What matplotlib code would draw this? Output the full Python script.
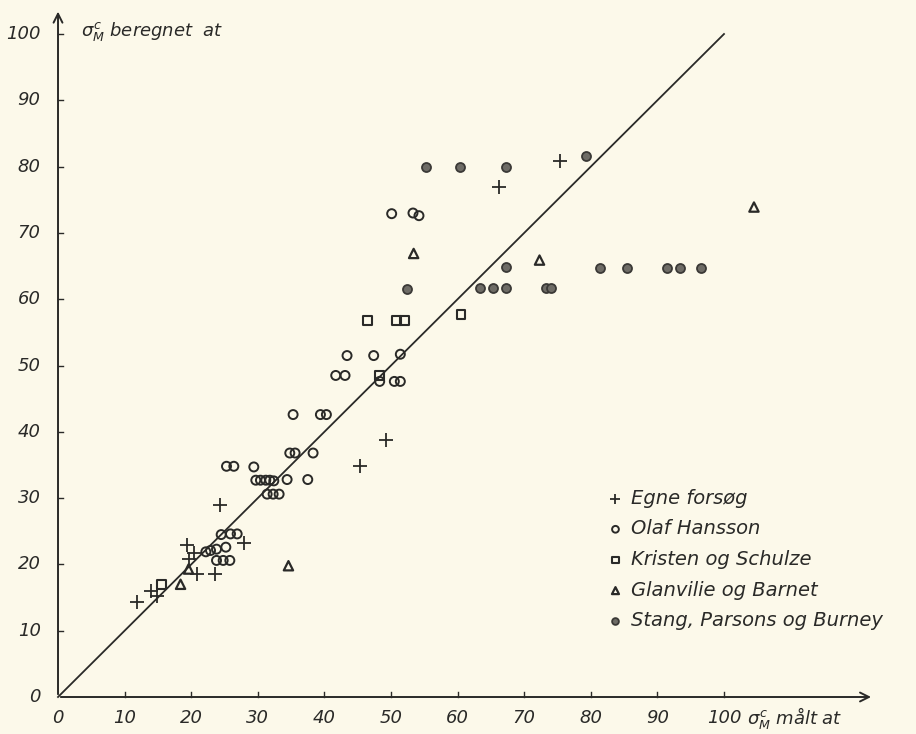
import matplotlib
matplotlib.use("Agg")
import matplotlib.pyplot as plt

# ==========================
# Data read from the chart (measured vs. calculated, at)
# ==========================
egne_x = [11.9, 13.9, 14.8, 19.4, 19.6, 20.4, 20.8, 23.6, 24.3, 27.9, 45.4, 49.3, 66.2, 75.4]
egne_y = [14.3, 16.0, 15.3, 22.9, 20.8, 21.7, 18.5, 18.5, 29.0, 23.3, 34.8, 38.8, 76.9, 80.9]

olaf_x = [22.2, 22.9, 23.8, 23.8, 24.8, 25.8, 25.2, 24.5, 25.9, 26.9,
          25.3, 26.4, 29.4, 29.7, 30.4, 31.2, 31.8, 32.4, 34.4, 37.5,
          31.4, 32.3, 33.2, 34.8, 35.6, 38.3, 35.3, 39.4, 40.3,
          41.7, 43.1, 43.4, 47.4, 51.4, 48.3, 50.5, 51.4, 50.1, 53.3, 54.2]
olaf_y = [21.9, 22.1, 22.3, 20.6, 20.6, 20.6, 22.6, 24.5, 24.6, 24.6,
          34.8, 34.8, 34.7, 32.7, 32.7, 32.7, 32.7, 32.6, 32.8, 32.8,
          30.6, 30.6, 30.6, 36.8, 36.8, 36.8, 42.6, 42.6, 42.6,
          48.5, 48.5, 51.5, 51.5, 51.7, 47.6, 47.6, 47.6, 72.9, 73.0, 72.6]

kristen_x = [15.5, 46.5, 50.8, 52.0, 60.5, 48.3]
kristen_y = [17.0, 56.8, 56.8, 56.8, 57.7, 48.5]

glanv_x = [18.4, 19.6, 34.6, 53.4, 72.3, 104.5]
glanv_y = [17.0, 19.3, 19.8, 66.9, 65.9, 73.9]

stang_x = [55.2, 60.3, 67.3, 79.3, 52.4, 63.3, 65.3, 67.3, 67.3, 73.2, 74.0,
           81.4, 85.4, 91.5, 93.4, 96.5]
stang_y = [79.9, 79.9, 79.9, 81.6, 61.6, 61.7, 61.7, 61.7, 64.8, 61.7, 61.7,
           64.7, 64.7, 64.7, 64.7, 64.7]

ticks = [0, 10, 20, 30, 40, 50, 60, 70, 80, 90, 100]
labels = ["Egne forsøg", "Olaf Hansson", "Kristen og Schulze",
          "Glanvilie og Barnet", "Stang, Parsons og Burney"]

# ==========================
# Figure
# ==========================
ink = "#2a2a28"
paper = "#fcf9ea"
plt.rcParams["font.family"] = "DejaVu Sans"
plt.rcParams["mathtext.fontset"] = "dejavusans"

fig = plt.figure(figsize=(9.16, 7.34), dpi=100, facecolor=paper)
ax = fig.add_axes([0, 0, 1, 1])
ax.set_facecolor(paper)
ax.set_xlim(-8.71, 128.83)
ax.set_ylim(-5.58, 105.13)
ax.axis("off")

# axes with arrows
ax.annotate("", xy=(122.5, 0), xytext=(0, 0),
            arrowprops=dict(arrowstyle="->", color=ink, lw=1.4, mutation_scale=16))
ax.annotate("", xy=(0, 103.8), xytext=(0, 0),
            arrowprops=dict(arrowstyle="->", color=ink, lw=1.4, mutation_scale=16))
ax.plot([0, 100], [0, 100], color=ink, lw=1.3)

fs = 13
for t in ticks:
    if t > 0:
        ax.plot([t, t], [0, 0.8], color=ink, lw=1.0)
        ax.plot([0, 0.7], [t, t], color=ink, lw=1.0)
    ax.text(t, -3.2, str(t), ha="center", va="center", fontsize=fs,
            style="italic", color=ink)
    ax.text(-2.6, t, str(t), ha="right", va="center", fontsize=fs,
            style="italic", color=ink)

ax.text(3.4, 100.4, r"$\sigma^c_M$ beregnet  at", ha="left", va="center",
        fontsize=fs, style="italic", color=ink)
ax.text(103.4, -3.2, r"$\sigma^c_M$ målt at", ha="left", va="center",
        fontsize=fs, style="italic", color=ink)

ms = 42
h1 = ax.scatter(egne_x, egne_y, marker="+", s=90, color=ink, linewidths=1.3)
h2 = ax.scatter(olaf_x, olaf_y, marker="o", s=ms, facecolors="none",
                edgecolors=ink, linewidths=1.4)
h3 = ax.scatter(kristen_x, kristen_y, marker="s", s=38, facecolors="none",
                edgecolors=ink, linewidths=1.5)
h4 = ax.scatter(glanv_x, glanv_y, marker="^", s=45, facecolors="none",
                edgecolors=ink, linewidths=1.6)
h5 = ax.scatter(stang_x, stang_y, marker="o", s=ms, facecolors="#6e6c66",
                edgecolors="#3a3936", linewidths=1.3)

leg = ax.legend([h1, h2, h3, h4, h5], labels, loc="upper left",
                bbox_to_anchor=(597 / 916, 1 - 479 / 734), frameon=False,
                fontsize=14, handlelength=0.9, handletextpad=0.35,
                labelspacing=0.6, borderpad=0, markerscale=0.75)
for txt in leg.get_texts():
    txt.set_style("italic")
    txt.set_color(ink)

fig.savefig("out.png", dpi=100, facecolor=paper)
